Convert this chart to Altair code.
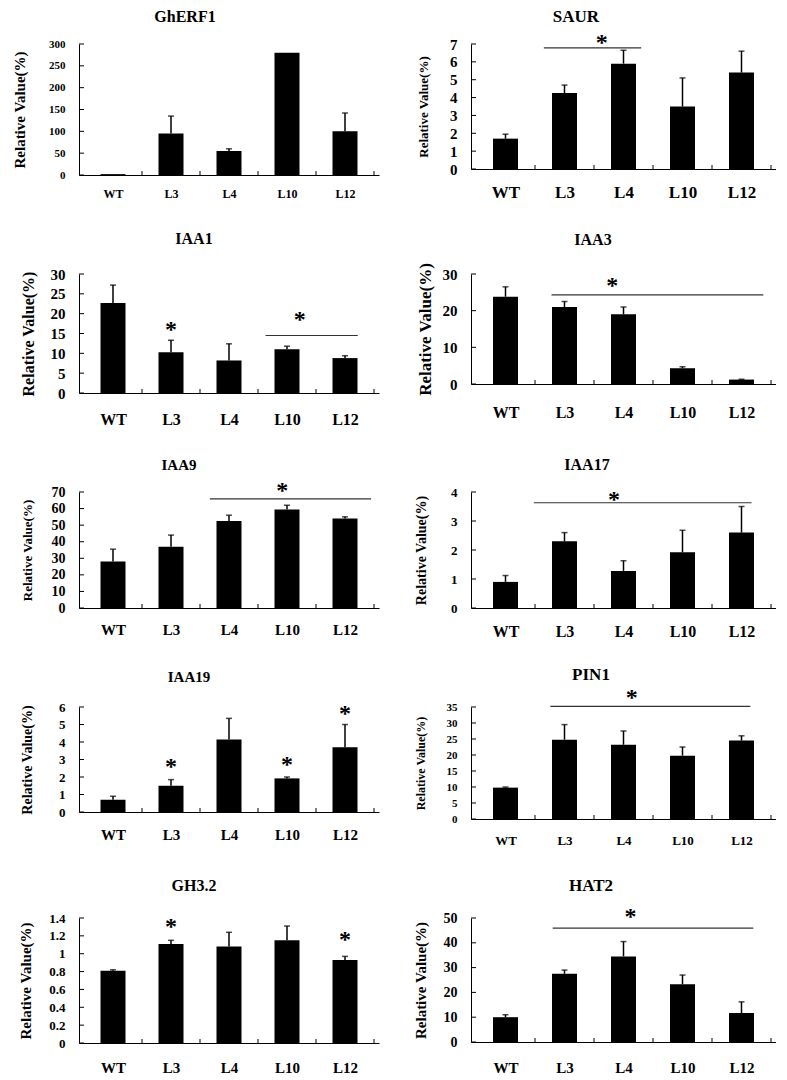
import altair as alt
import pandas as pd

# ---------------- data ----------------
CATEGORIES = ["WT", "L3", "L4", "L10", "L12"]
GENES = ["GhERF1", "SAUR", "IAA1", "IAA3", "IAA9", "IAA17", "IAA19", "PIN1", "GH3.2", "HAT2"]

MEANS = {
    "GhERF1": [2, 95, 55, 280, 100],
    "SAUR": [1.7, 4.25, 5.9, 3.5, 5.4],
    "IAA1": [22.7, 10.3, 8.2, 11.0, 8.8],
    "IAA3": [23.8, 21.0, 19.0, 4.3, 1.2],
    "IAA9": [28, 37, 52.5, 59.5, 54],
    "IAA17": [0.9, 2.3, 1.28, 1.92, 2.6],
    "IAA19": [0.7, 1.5, 4.15, 1.92, 3.7],
    "PIN1": [9.8, 24.8, 23.2, 19.8, 24.5],
    "GH3.2": [0.81, 1.11, 1.08, 1.15, 0.93],
    "HAT2": [10, 27.5, 34.5, 23.3, 11.7],
}
ERRORS = {
    "GhERF1": [0, 40, 5, 0, 42],
    "SAUR": [0.25, 0.45, 0.75, 1.6, 1.2],
    "IAA1": [4.5, 3.0, 4.2, 0.8, 0.6],
    "IAA3": [2.7, 1.5, 2.0, 0.4, 0.1],
    "IAA9": [7.5, 7.0, 3.5, 2.5, 1.0],
    "IAA17": [0.22, 0.3, 0.35, 0.76, 0.9],
    "IAA19": [0.2, 0.35, 1.2, 0.08, 1.3],
    "PIN1": [0.2, 4.7, 4.3, 2.7, 1.5],
    "GH3.2": [0.01, 0.04, 0.16, 0.16, 0.04],
    "HAT2": [1.0, 1.5, 6.0, 3.7, 4.5],
}
Y_TICKS = {
    "GhERF1": [0, 50, 100, 150, 200, 250, 300],
    "SAUR": [0, 1, 2, 3, 4, 5, 6, 7],
    "IAA1": [0, 5, 10, 15, 20, 25, 30],
    "IAA3": [0, 10, 20, 30],
    "IAA9": [0, 10, 20, 30, 40, 50, 60, 70],
    "IAA17": [0, 1, 2, 3, 4],
    "IAA19": [0, 1, 2, 3, 4, 5, 6],
    "PIN1": [0, 5, 10, 15, 20, 25, 30, 35],
    "GH3.2": [0, 0.2, 0.4, 0.6, 0.8, 1.0, 1.2, 1.4],
    "HAT2": [0, 10, 20, 30, 40, 50],
}
# significance bars: (from category index, to category index, y value)
SIG_LINES = {
    "SAUR": (0.65, 2.3, 6.78),
    "IAA1": (2.63, 4.22, 14.5),
    "IAA3": (0.78, 4.37, 24.3),
    "IAA9": (1.67, 4.45, 65.8),
    "IAA17": (0.48, 4.17, 3.63),
    "PIN1": (0.76, 4.15, 35.2),
    "HAT2": (0.8, 4.2, 45.9),
}
# asterisks: (category index, y value)
STARS = {
    "SAUR": [(1.63, 7.27)],
    "IAA1": [(1.0, 17.0), (3.22, 19.5)],
    "IAA3": [(1.81, 27.8)],
    "IAA9": [(2.92, 72.9)],
    "IAA17": [(1.84, 3.85)],
    "IAA19": [(1.0, 2.82), (3.0, 2.93), (4.0, 5.81)],
    "PIN1": [(2.14, 39.2)],
    "GH3.2": [(1.0, 1.344), (4.0, 1.20)],
    "HAT2": [(2.12, 52.0)],
}
BOUNDARIES = [0.5, 1.5, 2.5, 3.5, 4.5]

# ---------------- styles ----------------
FONT = "Liberation Serif"
STYLE = {
    "GhERF1": dict(h=131, ty=27, tx=106, tfs=16, yfs=11, ytfs=15, yd=59, xfs=12, xpad=13),
    "SAUR": dict(h=125, ty=27, tx=105, tfs=17, yfs=15, ytfs=13, yd=47, xfs=17, xpad=15),
    "IAA1": dict(h=119, ty=35, tx=115, tfs=16, yfs=15, ytfs=16, yd=50, xfs=16, xpad=18),
    "IAA3": dict(h=110, ty=34, tx=122, tfs=16, yfs=15, ytfs=17, yd=45, xfs=16, xpad=20),
    "IAA9": dict(h=116, ty=27, tx=100, tfs=15, yfs=14, ytfs=13, yd=51, xfs=15, xpad=14),
    "IAA17": dict(h=116, ty=27, tx=116, tfs=16, yfs=13, ytfs=14, yd=49, xfs=16, xpad=15),
    "IAA19": dict(h=105, ty=30, tx=110, tfs=15, yfs=13, ytfs=14, yd=51, xfs=15, xpad=15),
    "PIN1": dict(h=112, ty=32, tx=120, tfs=17, yfs=11, ytfs=12, yd=49, xfs=13, xpad=15),
    "GH3.2": dict(h=125, ty=32, tx=115, tfs=16, yfs=13, ytfs=15, yd=53, xfs=15, xpad=17),
    "HAT2": dict(h=124, ty=32, tx=120, tfs=17, yfs=14, ytfs=15, yd=50, xfs=15, xpad=18),
}
PANEL_W = [300, 305]


def make_panel(gene, col):
    st = STYLE[gene]
    h = st["h"]
    w = PANEL_W[col]
    ticks = Y_TICKS[gene]
    ymax = ticks[-1]
    n = len(CATEGORIES)

    df = pd.DataFrame({
        "pos": list(range(n)),
        "line": CATEGORIES,
        "mean": MEANS[gene],
        "err": ERRORS[gene],
    })
    df["upper"] = df["mean"] + df["err"]
    df_err = df[df["err"] > 0]

    xs = alt.Scale(domain=[-0.5, n - 0.5], nice=False, zero=False)
    ys = alt.Scale(domain=[0, ymax], nice=False, zero=True)
    label_expr = "[" + ",".join("'%s'" % c for c in CATEGORIES) + "][datum.value]"

    ext = max(10, round(st["yd"] - 4 - 0.45 * st["ytfs"]))

    xaxis = alt.Axis(
        values=list(range(n)), labelExpr=label_expr, ticks=False, grid=False,
        title=None, domainColor="black", domainWidth=1, labelFont=FONT,
        labelFontWeight="bold", labelFontSize=st["xfs"], labelPadding=st["xpad"],
        labelColor="black", labelAngle=0, labelBaseline="top",
    )
    yaxis = alt.Axis(
        values=ticks, format="~r", ticks=False, grid=False,
        title="Relative Value(%)", titleFont=FONT, titleFontWeight="bold",
        titleFontSize=st["ytfs"], titlePadding=4, titleColor="black",
        labelFont=FONT, labelFontWeight="bold", labelFontSize=st["yfs"],
        labelPadding=14, labelColor="black", minExtent=ext, maxExtent=ext,
        domainColor="black", domainWidth=1,
    )

    def X(f):
        return alt.X(f, type="quantitative", scale=xs, axis=xaxis)

    def Y(f):
        return alt.Y(f, type="quantitative", scale=ys, axis=yaxis)

    layers = []
    layers.append(alt.Chart(df).mark_bar(size=25, color="black").encode(x=X("pos"), y=Y("mean")))
    layers.append(
        alt.Chart(df_err).mark_rule(color="black", strokeWidth=1.5).encode(
            x=X("pos"), y=Y("mean"), y2=alt.Y2("upper"))
    )
    layers.append(
        alt.Chart(df_err).mark_tick(orient="horizontal", size=6, thickness=1.5, color="black").encode(
            x=X("pos"), y=Y("upper"))
    )
    # inward y ticks
    layers.append(
        alt.Chart(pd.DataFrame({"v": ticks})).mark_rule(color="black", strokeWidth=1).encode(
            y=Y("v"), x=alt.value(0), x2=alt.value(5))
    )
    # x ticks between categories
    layers.append(
        alt.Chart(pd.DataFrame({"b": BOUNDARIES})).mark_rule(color="black", strokeWidth=1).encode(
            x=X("b"), y=alt.value(h), y2=alt.value(h - 4))
    )
    if gene in SIG_LINES:
        x1, x2, yv = SIG_LINES[gene]
        layers.append(
            alt.Chart(pd.DataFrame({"x1": [x1], "x2": [x2], "y": [yv]})).mark_rule(
                color="#333333", strokeWidth=1.2).encode(
                x=X("x1"), x2=alt.X2("x2"), y=Y("y"))
        )
    if gene in STARS:
        sdf = pd.DataFrame(STARS[gene], columns=["sx", "sy"])
        layers.append(
            alt.Chart(sdf).mark_text(text="*", font=FONT, fontWeight="bold", fontSize=24,
                                     baseline="alphabetic", dy=11, color="black").encode(
                x=X("sx"), y=Y("sy"))
        )
    # gene name (panel title)
    layers.append(
        alt.Chart(pd.DataFrame({"gene": [gene]})).mark_text(
            font=FONT, fontWeight="bold", fontSize=st["tfs"], baseline="middle",
            align="center", color="black").encode(
            text="gene:N", x=alt.value(st["tx"]), y=alt.value(-st["ty"]))
    )

    return alt.layer(*layers).properties(width=w, height=h)


panels = [make_panel(g, i % 2) for i, g in enumerate(GENES)]

chart = alt.concat(
    *panels, columns=2, bounds="flush",
    spacing=alt.RowColnumber(row=99, column=92),
).properties(
    padding={"left": 4, "top": 0, "right": 0, "bottom": 0},
    background="white",
).configure_view(stroke=None)

chart.save("out.html", embed_options={"renderer": "svg", "actions": False})
